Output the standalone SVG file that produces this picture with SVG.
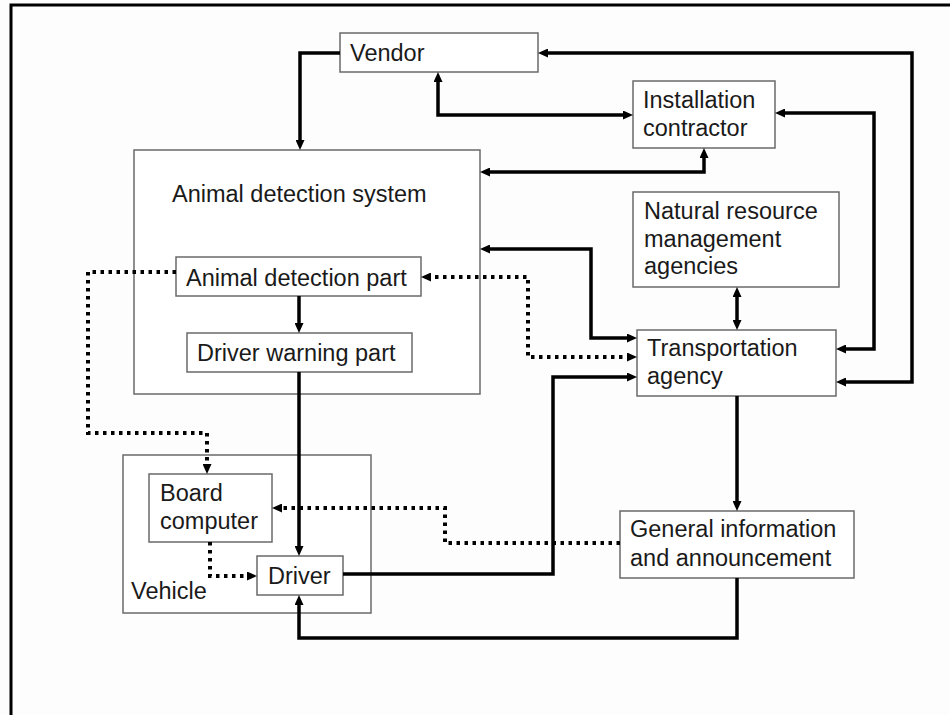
<svg xmlns="http://www.w3.org/2000/svg" width="950" height="715" viewBox="0 0 950 715">
<defs>
<style>
.box{fill:#ffffff;stroke:#6a6a6a;stroke-width:1.5}
.t{font-family:"Liberation Sans",Arial,sans-serif;font-size:23.5px;fill:#1a1a1a}
.c{fill:none;stroke:#000;stroke-width:3.5}
.d{fill:none;stroke:#000;stroke-width:4;stroke-dasharray:3.5 4.5}
</style>
<marker id="a" viewBox="0 0 10 9" refX="4" refY="4.5" markerWidth="10" markerHeight="9" markerUnits="userSpaceOnUse" orient="auto-start-reverse">
<path d="M0,0 L10,4.5 L0,9 z" fill="#000"/>
</marker>
</defs>
<rect width="950" height="715" fill="#fdfdfd"/>
<path d="M11,715 V5 H950" fill="none" stroke="#000" stroke-width="3"/>

<g id="ads">
<rect class="box" x="134" y="150" width="346" height="244"/>
<text class="t" x="172" y="202">Animal detection system</text>
</g>
<g id="vendor">
<rect class="box" x="340" y="33" width="198" height="39"/>
<text class="t" x="350" y="61">Vendor</text>
</g>
<g id="installation">
<rect class="box" x="633" y="81" width="142" height="67"/>
<text class="t" x="643" y="108">Installation</text>
<text class="t" x="643" y="136">contractor</text>
</g>
<g id="natural">
<rect class="box" x="633" y="192" width="206" height="95"/>
<text class="t" x="644" y="219">Natural resource</text>
<text class="t" x="644" y="247">management</text>
<text class="t" x="644" y="274">agencies</text>
</g>
<g id="adp">
<rect class="box" x="176" y="257" width="245" height="39"/>
<text class="t" x="186" y="286">Animal detection part</text>
</g>
<g id="dwp">
<rect class="box" x="187" y="333" width="225" height="39"/>
<text class="t" x="197" y="361">Driver warning part</text>
</g>
<g id="transport">
<rect class="box" x="637" y="330" width="199" height="66"/>
<text class="t" x="647" y="356">Transportation</text>
<text class="t" x="647" y="384">agency</text>
</g>
<g id="vehicle">
<rect class="box" x="123" y="455" width="248" height="158"/>
<text class="t" x="131" y="599">Vehicle</text>
</g>
<g id="board">
<rect class="box" x="149" y="474" width="123" height="68"/>
<text class="t" x="160" y="501">Board</text>
<text class="t" x="160" y="529">computer</text>
</g>
<g id="driver">
<rect class="box" x="257" y="556" width="86" height="39"/>
<text class="t" x="268" y="584">Driver</text>
</g>
<g id="general">
<rect class="box" x="620" y="511" width="234" height="67"/>
<text class="t" x="630" y="537">General information</text>
<text class="t" x="630" y="566">and announcement</text>
</g>

<g id="connectors">
<path class="c" d="M340,53 H300 V144" marker-end="url(#a)"/>
<path class="c" d="M544,53 H912 V382 H842" marker-start="url(#a)" marker-end="url(#a)"/>
<path class="c" d="M438,78 V115 H627" marker-start="url(#a)" marker-end="url(#a)"/>
<path class="c" d="M781,113 H874 V349 H842" marker-start="url(#a)" marker-end="url(#a)"/>
<path class="c" d="M486,172 H704 V154" marker-start="url(#a)" marker-end="url(#a)"/>
<path class="c" d="M486,249 H591 V338 H631" marker-start="url(#a)" marker-end="url(#a)"/>
<path class="c" d="M737,293 V324" marker-start="url(#a)" marker-end="url(#a)"/>
<path class="c" d="M299,296 V327" marker-end="url(#a)"/>
<path class="c" d="M299,372 V550" marker-end="url(#a)"/>
<path class="c" d="M343,574 H553 V377 H631" marker-end="url(#a)"/>
<path class="c" d="M737,396 V505" marker-end="url(#a)"/>
<path class="c" d="M737,578 V638 H299 V601" marker-end="url(#a)"/>
<path class="d" d="M427,277 H528 V357 H631" marker-start="url(#a)" marker-end="url(#a)"/>
<path class="d" d="M176,272 H88 V433 H207 V468" marker-end="url(#a)"/>
<path class="d" d="M620,543 H445 V508 H278" marker-end="url(#a)"/>
<path class="d" d="M210,542 V576 H251" marker-end="url(#a)"/>
</g>
</svg>
